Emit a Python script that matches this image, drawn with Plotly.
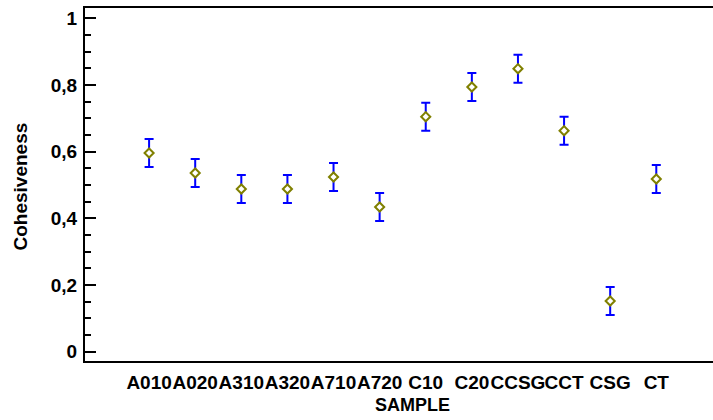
import plotly.graph_objects as go

# Sample means of cohesiveness with LSD interval half-widths
samples = ["A010", "A020", "A310", "A320", "A710", "A720",
           "C10", "C20", "CCSG", "CCT", "CSG", "CT"]
cohesiveness = [0.596, 0.536, 0.488, 0.488, 0.524, 0.434,
                0.705, 0.794, 0.849, 0.663, 0.152, 0.518]
half_interval = [0.042, 0.042, 0.042, 0.042, 0.042, 0.042,
                 0.042, 0.042, 0.042, 0.042, 0.042, 0.042]
y_ticks = [0, 0.2, 0.4, 0.6, 0.8, 1.0]

FONT = dict(family="Liberation Sans, Arial, sans-serif", size=19,
            color="black", weight="bold")
TITLE_FONT = dict(FONT, size=18)
Y_RANGE = [-0.028, 1.031]

positions = list(range(len(samples)))

fig = go.Figure()
fig.add_trace(go.Scatter(
    x=positions,
    y=cohesiveness,
    mode="markers",
    marker=dict(symbol="diamond", size=7, color="white",
                line=dict(color="#808000", width=2)),
    error_y=dict(type="data", array=half_interval, color="#0000FF",
                 thickness=2, width=4.5),
    showlegend=False,
    cliponaxis=False,
))

fig.update_layout(
    width=713, height=420,
    margin=dict(l=85, r=0, t=8, b=59),
    paper_bgcolor="white",
    plot_bgcolor="white",
    separators=",.",
    font=FONT,
    xaxis=dict(
        range=[-1.39, 12.23],
        tickmode="array",
        tickvals=positions,
        ticktext=samples,
        tickangle=0,
        ticks="",
        showgrid=False,
        zeroline=False,
        showline=True,
        linewidth=2,
        linecolor="black",
        mirror=True,
        tickfont=FONT,
        ticklabelstandoff=3,
    ),
    yaxis=dict(
        range=Y_RANGE,
        tickmode="array",
        tickvals=y_ticks,
        ticks="inside",
        ticklen=11,
        tickwidth=2,
        tickcolor="black",
        minor=dict(dtick=0.05, ticks="inside", ticklen=6,
                   tickwidth=2, tickcolor="black"),
        showgrid=False,
        zeroline=False,
        showline=True,
        linewidth=2,
        linecolor="black",
        tickfont=FONT,
        ticklabelstandoff=2,
    ),
    yaxis2=dict(
        range=Y_RANGE,
        overlaying="y",
        anchor="x",
        side="right",
        tickmode="array",
        tickvals=y_ticks,
        ticks="inside",
        ticklen=4,
        tickwidth=2,
        tickcolor="black",
        showticklabels=False,
        showgrid=False,
        zeroline=False,
        showline=False,
    ),
    annotations=[
        dict(text="Cohesiveness", xref="paper", yref="paper",
             x=-0.1027, y=0.493, xanchor="center", yanchor="middle",
             textangle=-90, showarrow=False, font=FONT),
        dict(text="SAMPLE", xref="paper", yref="paper",
             x=0.522, y=-0.126, xanchor="center", yanchor="middle",
             showarrow=False, font=TITLE_FONT),
    ],
)

fig.write_html("out.html")
